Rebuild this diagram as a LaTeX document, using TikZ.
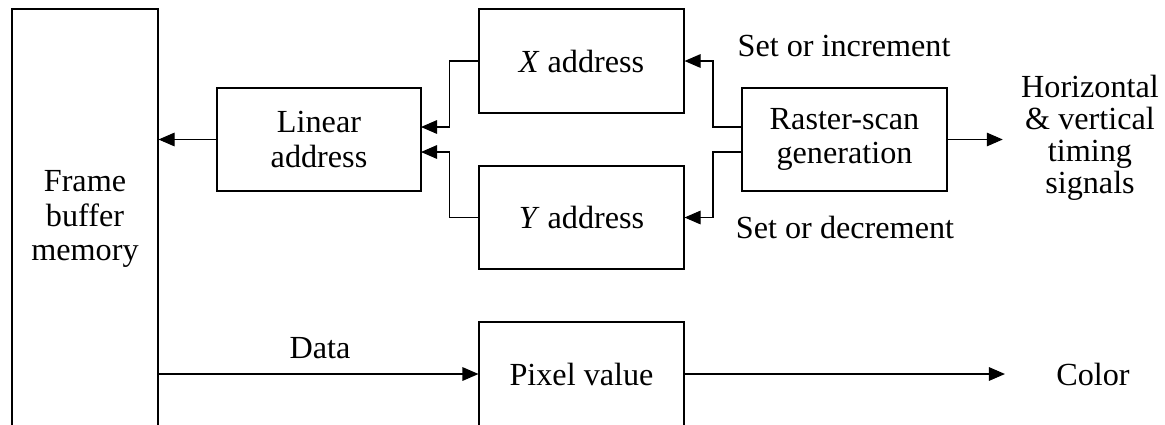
\documentclass[tikz,border=0pt]{standalone}
\usepackage{fontspec}
\setmainfont{Liberation Serif}
\usetikzlibrary{arrows.meta}
\begin{document}
\begin{tikzpicture}[x=0.5pt,y=-0.5pt,
  every node/.style={font=\fontsize{16.1pt}{17.2pt}\selectfont, inner sep=0pt, align=center},
  box/.style={draw, line width=0.55pt, minimum width=102.5pt, minimum height=51.5pt},
  arr/.style={-{Triangle[length=8pt,width=6.8pt]}, line width=0.55pt},
  lbl/.style={}]
  \useasboundingbox (0,0) rectangle (1165,424);
  \clip (0,0) rectangle (1165,424);

  % blocks
  \node[box, minimum width=73pt, minimum height=210pt] (fb) at (85,219) {Frame\\buffer\\memory};
  \node[box, minimum width=102pt] (lin) at (319,139.5) {Linear\\address};
  \node[box, minimum height=52pt] (xa) at (581.5,61) {\textit{X} address};
  \node[box] (ya) at (581.5,217.5) {\textit{Y} address};
  \node[box] (ras) at (844.5,139.5) {Raster-scan\\generation};
  \node[box, minimum height=52pt] (pix) at (581.5,374) {Pixel value};

  % free labels
  \node[lbl] (inc) at (844,46) {Set or increment};
  \node[lbl] (dec) at (845,227) {Set or decrement};
  \node[lbl, font=\fontsize{16.1pt}{16pt}\selectfont] (tim) at (1090,138) {Horizontal\\\& vertical\\timing\\signals};
  \node[lbl] (data) at (320,348) {Data};
  \node[lbl] (col) at (1093,374) {Color};

  % connection points
  \coordinate (lin-in1) at (421,127);
  \coordinate (lin-in2) at (421,152);
  \coordinate (ras-o1) at (742,127);
  \coordinate (ras-o2) at (742,152);

  % address path
  \draw[arr] (lin.west) -- (lin.west -| fb.east);
  \draw[arr] (xa.west) -- ++(-29,0) |- (lin-in1);
  \draw[arr] (ya.west) -- ++(-29,0) |- (lin-in2);
  \draw[arr] (ras-o1) -- ++(-29,0) |- (xa.east);
  \draw[arr] (ras-o2) -- ++(-29,0) |- (ya.east);
  \draw[arr, shorten >=9pt] (ras.east) -- (ras.east -| tim.west);

  % data path
  \draw[arr] (pix.west -| fb.east) -- (pix.west);
  \draw[arr, shorten >=25.5pt] (pix.east) -- (col.west);
\end{tikzpicture}
\end{document}
